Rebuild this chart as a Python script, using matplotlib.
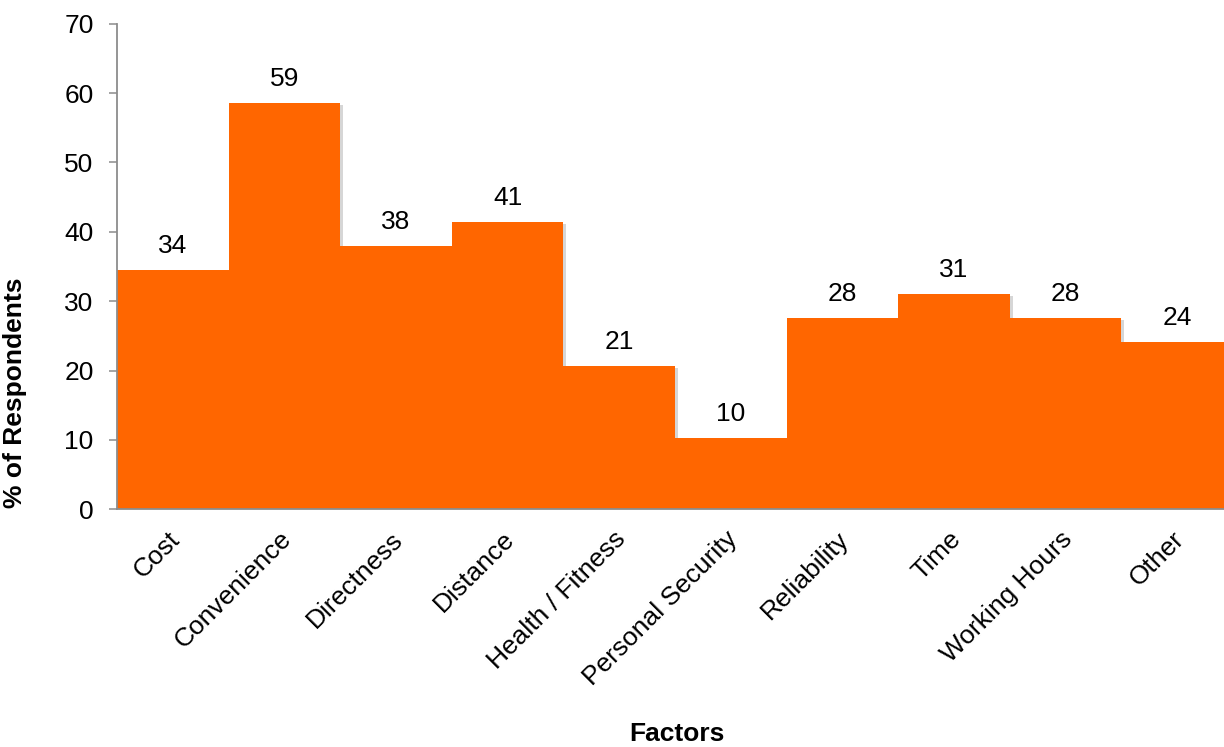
import matplotlib
matplotlib.use("Agg")
import matplotlib.pyplot as plt
import matplotlib.patheffects as pe
from matplotlib.transforms import ScaledTranslation

plt.rcParams['font.family'] = ['Liberation Sans', 'DejaVu Sans']

# Survey results: share of respondents citing each factor
factors = ["Cost", "Convenience", "Directness", "Distance", "Health / Fitness",
           "Personal Security", "Reliability", "Time", "Working Hours", "Other"]
percent = [34.48, 58.62, 37.93, 41.38, 20.69, 10.34, 27.59, 31.03, 27.59, 24.14]
y_ticks = [0, 10, 20, 30, 40, 50, 60, 70]

BAR_COLOR = "#FF6600"
AXIS_COLOR = "#8C8C8C"
FS = 19

W, H = 1224, 747
AX_LEFT, AX_WIDTH = 117, 1116      # plot area runs slightly past the right edge
AX_BOTTOM, AX_TOP = 509.3, 23.7

fig = plt.figure(figsize=(W / 100, H / 100), dpi=100)
ax = fig.add_axes([AX_LEFT / W, (H - AX_BOTTOM) / H, AX_WIDTH / W, (AX_BOTTOM - AX_TOP) / H])

x = list(range(len(factors)))
bars = ax.bar(x, percent, width=1.0, color=BAR_COLOR, linewidth=0, zorder=2)
for b in bars:
    b.set_path_effects([pe.SimplePatchShadow(offset=(2, -1.5), shadow_rgbFace="#7a7a7a", alpha=0.3),
                        pe.Normal()])

# value labels above each bar
for xi, v in zip(x, percent):
    ax.annotate(f"{v:.0f}", xy=(xi, v), xytext=(0, 12.2), textcoords="offset points",
                ha="center", va="baseline", fontsize=FS, color="black")

ax.set_xlim(-0.5, len(factors) - 0.5)
ax.set_ylim(0, 70)
ax.set_yticks(y_ticks)
ax.set_yticklabels([str(t) for t in y_ticks], fontsize=FS)
ax.tick_params(axis="y", direction="out", length=5.8, width=1.1, color=AXIS_COLOR, pad=11)

ax.set_xticks(x)
ax.set_xticklabels(factors, fontsize=FS, rotation=45, ha="right", va="baseline",
                   rotation_mode="anchor")
ax.tick_params(axis="x", length=0, pad=0)
shift = ScaledTranslation(8 / 100, -31 / 100, fig.dpi_scale_trans)
for lab in ax.get_xticklabels():
    lab.set_transform(lab.get_transform() + shift)

for side in ("top", "right"):
    ax.spines[side].set_visible(False)
for side in ("left", "bottom"):
    ax.spines[side].set_color(AXIS_COLOR)
    ax.spines[side].set_linewidth(1.3)
    ax.spines[side].set_zorder(3)

plot_h = AX_BOTTOM - AX_TOP
ax.set_ylabel("% of Respondents", fontsize=FS, fontweight="bold")
ax.yaxis.set_label_coords((27.5 - AX_LEFT) / AX_WIDTH, (AX_BOTTOM - 393) / plot_h)
ax.set_xlabel("Factors", fontsize=FS, fontweight="bold")
ax.xaxis.set_label_coords((677 - AX_LEFT) / AX_WIDTH, -(741 - AX_BOTTOM) / plot_h)
ax.xaxis.label.set_va("baseline")

fig.savefig("out.png", dpi=100)
